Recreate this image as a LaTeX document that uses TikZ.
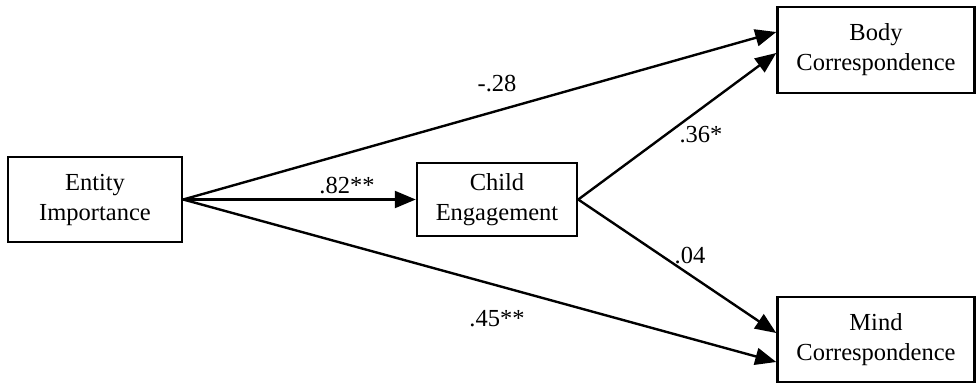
\documentclass[tikz,border=0pt]{standalone}
\usepackage{fontspec}
\setmainfont{Liberation Serif}
\usetikzlibrary{arrows.meta}
\begin{document}
\begin{tikzpicture}[x=1pt,y=-1pt,
  box/.style={draw,line width=2.5pt,inner sep=0pt,align=center,font=\fontsize{24.5}{30}\selectfont},
  lab/.style={font=\fontsize{24.5}{28}\selectfont,inner sep=0pt},
  arr/.style={line width=2.4pt,-{Triangle[length=21pt,width=17pt]}}]
\useasboundingbox (0,0) rectangle (977,384);
\node[box,minimum width=174pt,minimum height=85pt] (ei) at (95,199.5) {Entity\\Importance};
\node[box,minimum width=160pt,minimum height=73pt] (ce) at (497,199.5) {Child\\Engagement};
\node[box,minimum width=197pt,minimum height=86pt] (bc) at (876,50) {Body\\Correspondence};
\node[box,minimum width=197pt,minimum height=85pt] (mc) at (876,339.5) {Mind\\Correspondence};
\coordinate (bc1) at (bc.west |- 0,32);
\coordinate (bc2) at (bc.west |- 0,53);
\coordinate (mc1) at (mc.west |- 0,333);
\coordinate (mc2) at (mc.west |- 0,362);
\draw[arr] (ei.east) -- (ce.west);
\draw[arr] (ei.east) -- (bc1);
\draw[arr] (ei.east) -- (mc2);
\draw[arr] (ce.east) -- (bc2);
\draw[arr] (ce.east) -- (mc1);
\node[lab] (l1) at (497,84) {-.28};
\node[lab] (l2) at (347,186) {.82**};
\node[lab] (l3) at (701,135) {.36*};
\node[lab] (l4) at (690,256) {.04};
\node[lab] (l5) at (497,319) {.45**};
\end{tikzpicture}
\end{document}
